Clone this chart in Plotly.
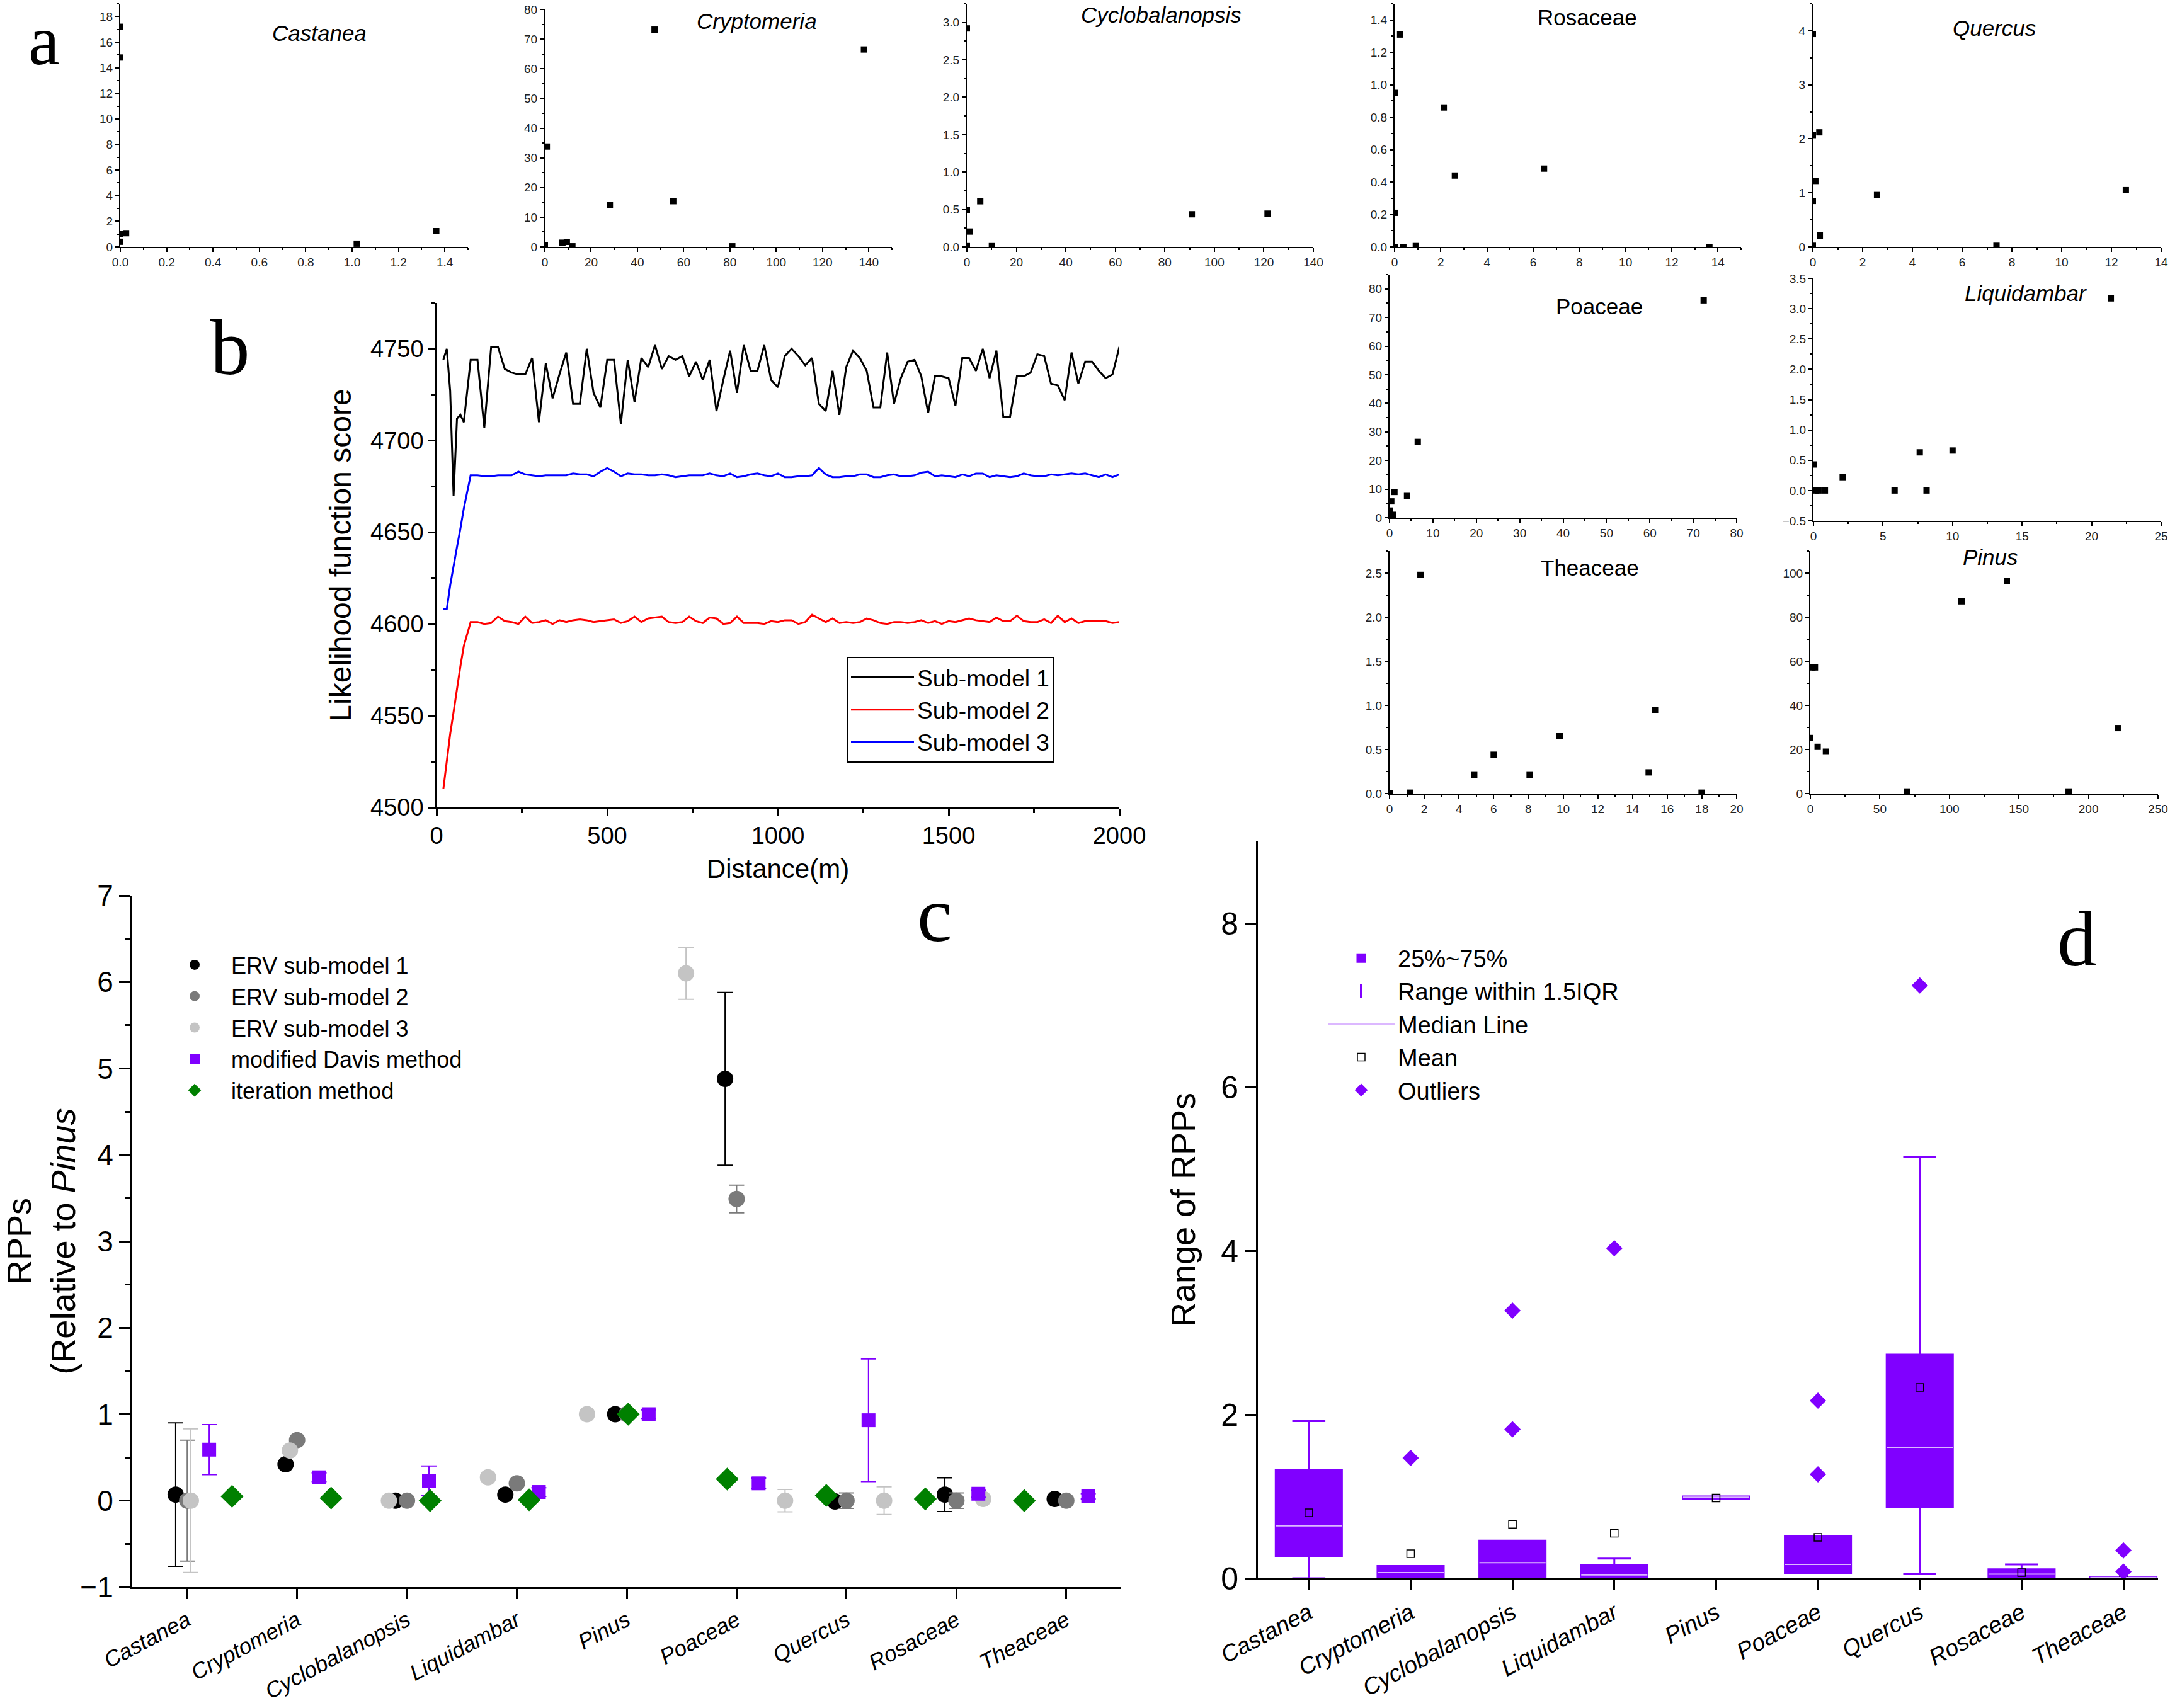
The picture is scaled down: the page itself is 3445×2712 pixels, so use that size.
import plotly.graph_objects as go

W, H = 3445, 2712
SANS = "Liberation Sans, Arial, Helvetica, sans-serif"
SERIF = "Liberation Serif, Times New Roman, serif"
PURPLE = "#8000ff"
GREEN = "#008000"
GRAY2 = "#7a7a7a"
GRAY3 = "#c4c4c4"

# ---------------- panel a data ----------------
castanea_x = [0, 0, 0, 0, 0.025, 1.02, 1.363]
castanea_y = [17.2, 14.8, 1.0, 0.4, 1.07, 0.25, 1.23]
cryptomeria_x = [0, 0.85, 7.6, 9.5, 11.9, 28.1, 47.4, 55.5, 81, 137.9]
cryptomeria_y = [0.5, 33.8, 1.4, 1.7, 0.2, 14.2, 73.2, 15.4, 0.2, 66.5]
cyclobalanopsis_x = [0, 0, 0, 1.25, 5.4, 10.1, 90.9, 121.5]
cyclobalanopsis_y = [2.92, 0.49, 0.01, 0.205, 0.61, 0.01, 0.436, 0.444]
rosaceae_x = [0, 0, 0, 0.24, 0.38, 0.92, 2.13, 2.61, 6.47, 13.63]
rosaceae_y = [0.95, 0.21, 0.0, 1.31, 0.0, 0.005, 0.86, 0.44, 0.483, 0.0]
quercus_x = [0, 0, 0, 0, 0.26, 0.1, 0.28, 2.58, 7.38, 12.58]
quercus_y = [3.94, 2.07, 0.85, 0.02, 2.12, 1.22, 0.21, 0.96, 0.02, 1.05]
poaceae_x = [0, 0.4, 1.13, 4.03, 6.5, 72.4, 0.8, 0.5]
poaceae_y = [2.5, 5.7, 9.0, 7.6, 26.5, 76.0, 1.0, 0.5]
liquidambar_x = [0, 0.18, 0.36, 0.82, 2.1, 5.83, 7.64, 8.13, 10.0, 21.38]
liquidambar_y = [0.43, 0, 0, 0, 0.22, 0, 0.63, 0, 0.66, 3.17]
theaceae_x = [0, 1.17, 1.78, 4.88, 6.0, 8.07, 9.8, 14.93, 15.3, 17.98]
theaceae_y = [0, 0.01, 2.48, 0.21, 0.44, 0.21, 0.65, 0.24, 0.95, 0.01]
pinus_x = [0, 1.5, 3.3, 5.25, 11.2, 69.7, 108.7, 141.3, 185.7, 221]
pinus_y = [25.2, 57.2, 57.2, 21.2, 19.0, 0.95, 87.2, 96.3, 0.95, 29.7]

# ---------------- panel b data ----------------
b_distance = [20, 30, 40, 50, 60, 70, 80,
              100, 120, 140, 160, 180, 200, 220, 240, 260, 280,
              300, 320, 340, 360, 380, 400, 420, 440, 460, 480,
              500, 520, 540, 560, 580, 600, 620, 640, 660, 680,
              700, 720, 740, 760, 780, 800, 820, 840, 860, 880,
              900, 920, 940, 960, 980, 1000, 1020, 1040, 1060, 1080,
              1100, 1120, 1140, 1160, 1180, 1200, 1220, 1240, 1260, 1280,
              1300, 1320, 1340, 1360, 1380, 1400, 1420, 1440, 1460, 1480,
              1500, 1520, 1540, 1560, 1580, 1600, 1620, 1640, 1660, 1680,
              1700, 1720, 1740, 1760, 1780, 1800, 1820, 1840, 1860, 1880,
              1900, 1920, 1940, 1960, 1980, 2000]
sub1 = [4744, 4750, 4727, 4670, 4712, 4714, 4710,
        4744, 4744, 4707, 4751, 4751, 4739, 4737, 4736, 4736, 4745,
        4710, 4742, 4723, 4736, 4748, 4720, 4720, 4750, 4726, 4718,
        4744, 4744, 4709, 4744, 4721, 4745, 4740, 4752, 4739, 4746,
        4744, 4746, 4735, 4743, 4733, 4744, 4716, 4733, 4749, 4726,
        4752, 4738, 4738, 4752, 4733, 4729, 4746, 4750, 4746, 4741,
        4745, 4720, 4716, 4738, 4714, 4740, 4749, 4745, 4738, 4718,
        4718, 4748, 4720, 4734, 4743, 4744, 4735, 4715, 4735, 4735,
        4734, 4719, 4745, 4745, 4738, 4750, 4734, 4749, 4713, 4713,
        4735, 4735, 4737, 4747, 4746, 4731, 4730, 4722, 4748, 4731,
        4743, 4743, 4738, 4734, 4736, 4751]
sub2 = [4510, 4525, 4540, 4552, 4565, 4577, 4588,
        4601, 4601, 4600, 4600.5, 4604, 4601.5, 4601, 4600, 4604, 4600.5,
        4601, 4602, 4600, 4602, 4601, 4602, 4602.5, 4602, 4601, 4601.5,
        4602, 4602.5, 4600.5, 4601.5, 4604, 4601, 4603, 4603.5, 4604, 4601,
        4600.5, 4601, 4604, 4601.5, 4600.5, 4603.5, 4603, 4600, 4600.5, 4604,
        4600.5, 4600.5, 4600.5, 4600, 4601.5, 4601, 4602, 4602, 4600, 4601,
        4605, 4603, 4601, 4603, 4600.5, 4601, 4600.5, 4601, 4603, 4602,
        4600.5, 4600, 4601, 4601, 4600.5, 4601, 4602, 4600.5, 4601.5, 4600,
        4601.5, 4601, 4602, 4603, 4602, 4601.5, 4601, 4603.5, 4601.5, 4601.5,
        4604.5, 4601.5, 4601, 4601, 4602.5, 4600.5, 4604.5, 4601, 4603, 4600.5,
        4601.5, 4601.5, 4601.5, 4601.5, 4600.5, 4601]
sub3 = [4608, 4608, 4621, 4632, 4642, 4652, 4663,
        4681, 4681, 4680.5, 4680.5, 4681, 4681, 4681, 4683, 4681.5, 4681,
        4680.5, 4681, 4681, 4681, 4681, 4682, 4681.5, 4681.5, 4680.5, 4683,
        4685, 4683, 4680.5, 4682, 4681.5, 4681.5, 4681, 4681, 4681.5, 4681,
        4680, 4680.5, 4681, 4681, 4681, 4682, 4681, 4680.5, 4682, 4680,
        4680.5, 4681.5, 4682, 4681, 4680.5, 4682, 4680, 4680, 4680.5, 4680.5,
        4681, 4685, 4681.5, 4680, 4680, 4680.5, 4680.5, 4681.5, 4681.5, 4680,
        4680, 4681, 4681.5, 4680.5, 4680.5, 4681, 4682.5, 4683, 4680.5, 4681,
        4680.5, 4680, 4681.5, 4680.5, 4682, 4682, 4680, 4681, 4680.5, 4680,
        4680.5, 4682, 4681, 4680.5, 4680.5, 4681.5, 4681, 4681.5, 4682, 4681.5,
        4682, 4681, 4680, 4681.5, 4680, 4681.5]

# ---------------- panel c data ----------------
taxa = ["Castanea", "Cryptomeria", "Cyclobalanopsis", "Liquidambar", "Pinus",
        "Poaceae", "Quercus", "Rosaceae", "Theaceae"]
erv1 = [0.07, 0.42, 0.0, 0.07, 1.0, 4.88, -0.01, 0.07, 0.02]
erv1_err = [0.83, 0.0, 0.0, 0.0, 0.0, 1.0, 0.0, 0.195, 0.0]
erv2 = [0.0, 0.70, 0.0, 0.20, 1.0, 3.49, 0.0, 0.0, 0.0]
erv2_err = [0.70, 0.0, 0.0, 0.0, 0.0, 0.16, 0.09, 0.09, 0.0]
erv3 = [0.0, 0.58, 0.0, 0.27, 1.0, 6.10, 0.0, 0.0, 0.02]
erv3_err = [0.83, 0.0, 0.0, 0.03, 0.0, 0.30, 0.13, 0.16, 0.0]
davis = [0.59, 0.27, 0.23, 0.10, 1.0, 0.20, 0.93, 0.08, 0.05]
davis_err = [0.29, 0.05, 0.17, 0.05, 0.05, 0.06, 0.71, 0.04, 0.03]
iteration = [0.05, 0.03, 0.0, 0.01, 1.0, 0.25, 0.06, 0.02, 0.0]

# ---------------- panel d data ----------------
box_q1 = [0.27, 0.0, 0.01, 0.01, 0.97, 0.06, 0.87, 0.01, 0.0]
box_median = [0.64, 0.07, 0.19, 0.04, 0.99, 0.17, 1.60, 0.05, 0.01]
box_q3 = [1.32, 0.15, 0.46, 0.16, 1.00, 0.52, 2.73, 0.11, 0.02]
box_low = [0.0, 0.0, 0.0, 0.0, 0.97, 0.06, 0.05, 0.0, 0.0]
box_high = [1.92, 0.15, 0.46, 0.24, 1.00, 0.52, 5.15, 0.17, 0.02]
box_mean = [0.80, 0.30, 0.66, 0.55, 0.98, 0.50, 2.33, 0.07, 0.07]
box_outliers = [[], [1.47], [1.82, 3.27], [4.03], [], [1.27, 2.17], [7.24], [], [0.34, 0.08]]


def dom_x(l, r):
    return [l / W, r / W]


def dom_y(t, b):
    return [1 - b / H, 1 - t / H]


def axis_style(size, lw=2, tl=6, color="#222"):
    return dict(showline=True, linecolor="black", linewidth=lw, ticks="outside",
                ticklen=tl, tickwidth=lw, tickcolor="black", showgrid=False,
                zeroline=False, automargin=False, ticklabeloverflow="allow",
                tickfont=dict(family=SANS, size=size, color=color), mirror=False)


fig = go.Figure()
annotations = []
layout = dict(template="none", width=W, height=H,
              margin=dict(l=0, r=0, t=0, b=0, pad=0, autoexpand=False),
              paper_bgcolor="white", plot_bgcolor="rgba(0,0,0,0)",
              font=dict(family=SANS, color="black"))

# small scatter panels: name, italic, x, y, xrange, yrange, xdt, ydt, xfmt, yfmt, (l,r,t,b), title(fx,fy)
small = [
    ("Castanea", True, castanea_x, castanea_y, [0, 1.5], [0, 19], 0.2, 2, ".1f", "d", (191, 743, 6, 392), (0.572, 0.88)),
    ("Cryptomeria", True, cryptomeria_x, cryptomeria_y, [0, 150], [0, 80], 20, 10, "d", "d", (865, 1416, 15, 392), (0.61, 0.95)),
    ("Cyclobalanopsis", True, cyclobalanopsis_x, cyclobalanopsis_y, [0, 140], [0, 3.25], 20, 0.5, "d", ".1f", (1535, 2085, 6, 392), (0.56, 0.955)),
    ("Rosaceae", False, rosaceae_x, rosaceae_y, [0, 15], [0, 1.5], 2, 0.2, "d", ".1f", (2214, 2764, 6, 392), (0.556, 0.945)),
    ("Quercus", True, quercus_x, quercus_y, [0, 14], [0, 4.5], 2, 1, "d", "d", (2878, 3431, 6, 392), (0.52, 0.90)),
    ("Poaceae", False, poaceae_x, poaceae_y, [0, 80], [0, 85], 10, 10, "d", "d", (2206, 2757, 436, 822), (0.604, 0.868)),
    ("Liquidambar", True, liquidambar_x, liquidambar_y, [0, 25], [-0.5, 3.5], 5, 0.5, "d", ".1f", (2879, 3431, 442, 827), (0.61, 0.94)),
    ("Theaceae", False, theaceae_x, theaceae_y, [0, 20], [0, 2.75], 2, 0.5, "d", ".1f", (2206, 2757, 875, 1260), (0.577, 0.93)),
    ("Pinus", True, pinus_x, pinus_y, [0, 250], [0, 110], 50, 20, "d", "d", (2874, 3426, 875, 1260), (0.518, 0.975)),
]

for k, (name, ital, xs, ys, xr, yr, xdt, ydt, xf, yf, box, tpos) in enumerate(small, start=1):
    xa = "x" if k == 1 else f"x{k}"
    ya = "y" if k == 1 else f"y{k}"
    suf = "" if k == 1 else str(k)
    fig.add_trace(go.Scatter(x=xs, y=ys, mode="markers", xaxis=xa, yaxis=ya,
                             marker=dict(symbol="square", size=10, color="black"),
                             showlegend=False, cliponaxis=True))
    ax = axis_style(19)
    ax.update(domain=dom_x(box[0], box[1]), anchor=ya, range=xr, dtick=xdt, tick0=0,
              tickformat=xf, minor=dict(dtick=xdt / 2, ticks="outside", ticklen=3,
                                        tickwidth=2, tickcolor="black", showgrid=False))
    layout["xaxis" + suf] = ax
    ay = axis_style(19)
    ay.update(domain=dom_y(box[2], box[3]), anchor=xa, range=yr, dtick=ydt, tick0=0,
              tickformat=yf, minor=dict(dtick=ydt / 2, ticks="outside", ticklen=3,
                                        tickwidth=2, tickcolor="black", showgrid=False))
    layout["yaxis" + suf] = ay
    annotations.append(dict(text=f"<i>{name}</i>" if ital else name, xref=f"{xa} domain",
                            yref=f"{ya} domain", x=tpos[0], y=tpos[1], showarrow=False,
                            xanchor="center", yanchor="middle",
                            font=dict(family=SANS, size=35, color="black")))

# ---------------- panel b ----------------
for ys, nm, col in [(sub1, "Sub-model 1", "black"), (sub2, "Sub-model 2", "#ff0000"),
                    (sub3, "Sub-model 3", "#0000ff")]:
    fig.add_trace(go.Scatter(x=b_distance, y=ys, mode="lines", name=nm, xaxis="x10",
                             yaxis="y10", line=dict(color=col, width=3), legend="legend"))

ax = axis_style(38, lw=2.5, tl=10, color="black")
ax.update(domain=dom_x(693, 1777), anchor="y10", range=[0, 2000], dtick=500, tick0=0,
          minor=dict(dtick=250, ticks="outside", ticklen=6, tickwidth=2.5, tickcolor="black"),
          title=dict(text="Distance(m)", font=dict(family=SANS, size=42, color="black"), standoff=18))
layout["xaxis10"] = ax
ay = axis_style(38, lw=2.5, tl=10, color="black")
ay.update(domain=dom_y(481, 1282), anchor="x10", range=[4500, 4775], dtick=50, tick0=4500,
          minor=dict(dtick=25, ticks="outside", ticklen=6, tickwidth=2.5, tickcolor="black"),
          title=dict(text="Likelihood function score", font=dict(family=SANS, size=48, color="black"), standoff=16))
layout["yaxis10"] = ay
layout["legend"] = dict(x=1344 / W, y=1 - 1043 / H, xanchor="left", yanchor="top",
                        bgcolor="white", bordercolor="black", borderwidth=2,
                        font=dict(family=SANS, size=37, color="black"), itemwidth=100,
                        tracegroupgap=0)

# ---------------- panel c ----------------
idx = list(range(len(taxa)))
OFF1, OFF2, OFF_DAVIS = -0.105, 0.0, 0.2
STEP_DRIFT, OFF3, OFF_IT = 0.9013, 0.033, 0.408
series_c = [
    ("ERV sub-model 1", [i + OFF1 for i in idx], erv1, erv1_err, "black", "circle", 26),
    ("ERV sub-model 2", [i + OFF2 for i in idx], erv2, erv2_err, GRAY2, "circle", 26),
    ("ERV sub-model 3", [OFF3 + i * STEP_DRIFT for i in idx], erv3, erv3_err, GRAY3, "circle", 26),
    ("modified Davis method", [i + OFF_DAVIS for i in idx], davis, davis_err, PURPLE, "square", 22),
    ("iteration method", [OFF_IT + i * STEP_DRIFT for i in idx], iteration, None, GREEN, "diamond", 28),
]
for nm, xs, ys, err, col, sym, sz in series_c:
    tr = dict(x=xs, y=ys, mode="markers", name=nm, xaxis="x11", yaxis="y11",
              marker=dict(symbol=sym, size=sz, color=col), legend="legend2", cliponaxis=False)
    if err is not None:
        tr["error_y"] = dict(type="data", array=err, visible=True, color=col, thickness=2, width=12)
    fig.add_trace(go.Scatter(**tr))

ax = axis_style(35, lw=3, tl=16, color="black")
ax.update(domain=dom_x(210, 1780), anchor="y11", range=[-0.5, 8.5], tickvals=idx,
          ticktext=[f"<i>{t}</i>" for t in taxa], tickangle=-28)
layout["xaxis11"] = ax
ay = axis_style(46, lw=3, tl=18, color="black")
ay.update(domain=dom_y(1422, 2520), anchor="x11", range=[-1, 7], dtick=1, tick0=0,
          minor=dict(dtick=0.5, ticks="outside", ticklen=9, tickwidth=3, tickcolor="black"),
          title=dict(text="RPPs<br>(Relative to <i>Pinus</i>", font=dict(family=SANS, size=54, color="black"), standoff=14))
layout["yaxis11"] = ay
layout["legend2"] = dict(x=251 / W, y=1 - 1502 / H, xanchor="left", yanchor="top",
                         bgcolor="rgba(0,0,0,0)", borderwidth=0,
                         font=dict(family=SANS, size=36, color="black"), itemwidth=106,
                         tracegroupgap=0)

# ---------------- panel d ----------------
BOXW = 0.65
fig.add_trace(go.Box(x=idx, q1=box_q1, median=box_median, q3=box_q3, lowerfence=box_low,
                     upperfence=box_high, width=BOXW, whiskerwidth=0.5, fillcolor=PURPLE,
                     line=dict(color=PURPLE, width=3), boxpoints=False, name="25%~75%",
                     xaxis="x12", yaxis="y12", legend="legend3"))
fig.add_trace(go.Scatter(x=[None], y=[None], mode="markers", name="Range within 1.5IQR",
                         marker=dict(symbol="line-ns-open", size=16, color=PURPLE,
                                     line=dict(color=PURPLE, width=4)),
                         xaxis="x12", yaxis="y12", legend="legend3"))
mx, my = [], []
for i, m in zip(idx, box_median):
    mx += [i - BOXW / 2, i + BOXW / 2, None]
    my += [m, m, None]
fig.add_trace(go.Scatter(x=mx, y=my, mode="lines", name="Median Line",
                         line=dict(color="#dcb8ff", width=2), xaxis="x12", yaxis="y12",
                         legend="legend3"))
fig.add_trace(go.Scatter(x=idx, y=box_mean, mode="markers", name="Mean",
                         marker=dict(symbol="square-open", size=12, color="black", line=dict(width=1.5)),
                         xaxis="x12", yaxis="y12", legend="legend3"))
ox, oy = [], []
for i, vals in zip(idx, box_outliers):
    for v in vals:
        ox.append(i)
        oy.append(v)
fig.add_trace(go.Scatter(x=ox, y=oy, mode="markers", name="Outliers",
                         marker=dict(symbol="diamond", size=20, color=PURPLE),
                         xaxis="x12", yaxis="y12", legend="legend3", cliponaxis=False))

ax = axis_style(37, lw=3, tl=16, color="black")
ax.update(domain=dom_x(1997, 3426), anchor="y12", range=[-0.5, 8.34], tickvals=idx,
          ticktext=[f"<i>{t}</i>" for t in taxa], tickangle=-28)
layout["xaxis12"] = ax
ay = axis_style(50, lw=3, tl=18, color="black")
ay.update(domain=dom_y(1336, 2506), anchor="x12", range=[0, 9], dtick=2, tick0=0,
          title=dict(text="Range of RPPs", font=dict(family=SANS, size=54, color="black"), standoff=24))
layout["yaxis12"] = ay
layout["legend3"] = dict(x=2103 / W, y=1 - 1490 / H, xanchor="left", yanchor="top",
                         bgcolor="rgba(0,0,0,0)", borderwidth=0,
                         font=dict(family=SANS, size=38, color="black"), itemwidth=106,
                         tracegroupgap=0)

# panel letters
annotations.append(dict(text="a", xref="paper", yref="paper", x=70 / W, y=1.0,
                        showarrow=False, xanchor="center", yanchor="top",
                        font=dict(family=SERIF, size=112, color="black")))
for letter, px, py in [("b", 365, 552), ("c", 1483, 1452), ("d", 3297, 1491)]:
    annotations.append(dict(text=letter, xref="paper", yref="paper", x=px / W, y=1 - py / H,
                            showarrow=False, xanchor="center", yanchor="middle",
                            font=dict(family=SERIF, size=125, color="black")))

layout["annotations"] = annotations
fig.update_layout(**layout)
fig.write_html("out.html")
